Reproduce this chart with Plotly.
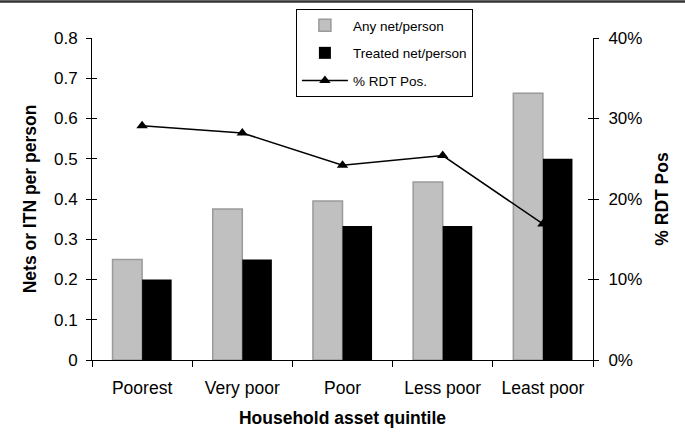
"""
Nets per person and RDT positivity by household asset quintile
"""

import plotly.graph_objects as go

# Data
quintiles = ["Poorest", "Very poor", "Poor", "Less poor", "Least poor"]
any_net = [0.25, 0.375, 0.395, 0.442, 0.663]
treated_net = [0.20, 0.25, 0.333, 0.333, 0.50]
rdt_pos = [0.291, 0.282, 0.242, 0.254, 0.169]

left_ticks = [0, 0.1, 0.2, 0.3, 0.4, 0.5, 0.6, 0.7, 0.8]
left_labels = ["0", "0.1", "0.2", "0.3", "0.4", "0.5", "0.6", "0.7", "0.8"]

FONT = "Arial, Liberation Sans, sans-serif"

fig = go.Figure()

fig.add_trace(go.Bar(
    x=quintiles, y=any_net, name="Any net/person",
    marker=dict(color="#c0c0c0", line=dict(color="#9a9a9a", width=1.5)),
    legendgroup="a",
))
fig.add_trace(go.Bar(
    x=quintiles, y=treated_net, name="Treated net/person",
    marker=dict(color="#000000", line=dict(color="#000000", width=0)),
    legendgroup="b",
))
fig.add_trace(go.Scatter(
    x=quintiles, y=rdt_pos, name="% RDT Pos.", yaxis="y2",
    mode="lines+markers",
    line=dict(color="#000000", width=1.5),
    marker=dict(symbol="triangle-up", size=10, color="#000000"),
    legendgroup="c",
))
# empty traces so the helper axes (inside ticks) get drawn
fig.add_trace(go.Scatter(x=[], y=[], yaxis="y3", showlegend=False, hoverinfo="skip"))
fig.add_trace(go.Scatter(x=[], y=[], yaxis="y4", showlegend=False, hoverinfo="skip"))

axis_common = dict(showgrid=False, zeroline=False, showline=True,
                   linecolor="#000000", linewidth=1, tickcolor="#000000")

fig.update_layout(
    width=685, height=444,
    margin=dict(l=92, r=92, t=38, b=84, autoexpand=False),
    paper_bgcolor="white", plot_bgcolor="white",
    font=dict(family=FONT, size=17, color="#000000"),
    barmode="group", bargap=0.41, bargroupgap=0,
    xaxis=dict(
        **axis_common, ticks="outside", ticklen=6, tickson="boundaries",
        tickfont=dict(size=17.5), ticklabelstandoff=12,
        title=dict(text="<b>Household asset quintile</b>", standoff=14,
                   font=dict(size=17.5)),
    ),
    yaxis=dict(
        **axis_common, range=[0, 0.8], tickvals=left_ticks, ticktext=left_labels,
        ticks="outside", ticklen=5, ticklabelstandoff=5,
        title=dict(text="<b>Nets or ITN per person</b>", standoff=12,
                   font=dict(size=17.5)),
    ),
    yaxis2=dict(
        **axis_common, range=[0, 0.4], dtick=0.1, ticks="outside", ticklen=5,
        tickformat=".0%", overlaying="y", side="right", ticklabelstandoff=6,
        title=dict(text="<b>% RDT Pos</b>", standoff=14, font=dict(size=17.5)),
    ),
    yaxis3=dict(
        **axis_common, range=[0, 0.8], dtick=0.1, ticks="inside", ticklen=5,
        showticklabels=False, overlaying="y", side="left",
    ),
    yaxis4=dict(
        **axis_common, range=[0, 0.4], dtick=0.1, ticks="inside", ticklen=5,
        showticklabels=False, overlaying="y", side="right",
    ),
    legend=dict(
        x=0.407, y=1.09, xanchor="left", yanchor="top",
        bgcolor="white", bordercolor="#000000", borderwidth=1,
        font=dict(size=13.5), tracegroupgap=7, traceorder="grouped",
        itemwidth=46,
    ),
    showlegend=True,
)

# thin rule along the top edge of the image
fig.add_shape(type="line", xref="paper", yref="paper",
              x0=-0.2, x1=1.2, y0=1 + 36.5 / 322, y1=1 + 36.5 / 322,
              line=dict(color="#333333", width=2.5))

# drop the browser's default body margin so the figure sits at (0, 0)
fig.write_html("out.html", config={"displayModeBar": False},
               post_script="document.body.style.margin='0';")
